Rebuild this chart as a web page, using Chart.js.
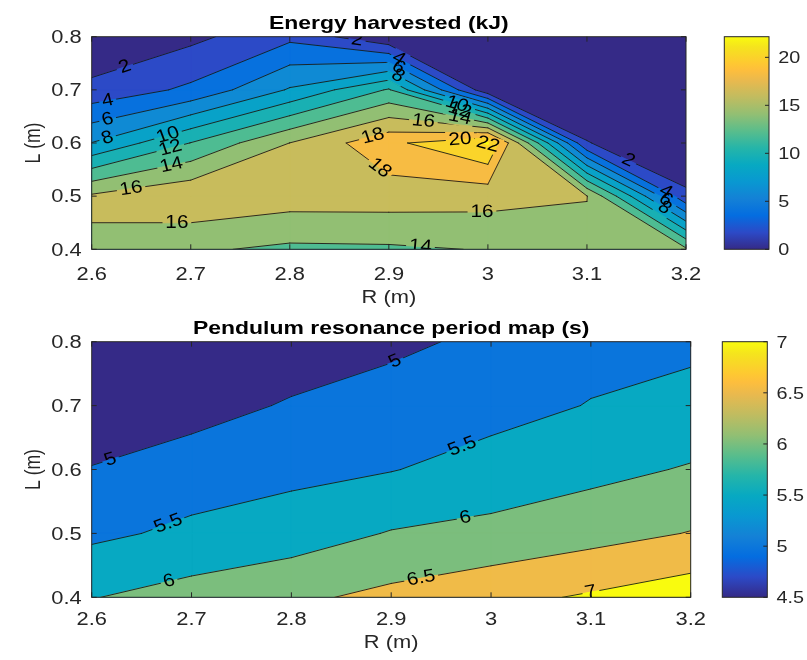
<!DOCTYPE html>
<html>
<head>
<meta charset="utf-8">
<title>Energy harvested and pendulum resonance period</title>
<script src="https://cdn.jsdelivr.net/npm/chart.js@4.4.1/dist/chart.umd.min.js"></script>
<style>
  html, body { margin: 0; padding: 0; background: #ffffff; }
  #wrap { position: relative; width: 807px; height: 660px; overflow: hidden; }
  #wrap canvas { position: absolute; left: 0; top: 0; }
</style>
</head>
<body>
<div id="wrap">
  <canvas id="energyMap" width="807" height="660"></canvas>
  <canvas id="energyBar" width="807" height="660"></canvas>
  <canvas id="periodMap" width="807" height="660"></canvas>
  <canvas id="periodBar" width="807" height="660"></canvas>
</div>
<script>
// ---- grid axes -------------------------------------------------------------
const radiusR = [2.6, 2.7, 2.8, 2.9, 3.0, 3.1, 3.2];   // R (m)
const lengthL = [0.4, 0.5, 0.6, 0.7, 0.8];             // L (m)

// ---- energy harvested (kJ), one row per length L ---------------------------
const energyL040 = [15.7, 14.3, 13.6, 13.7, 14.1, 15.55, 14.3];
const energyL050 = [16.3, 17.7, 17.0, 17.0, 16.8, 16.05, 2.4];
const energyL060 = [8.05, 12.05, 16.02, 19.5, 22.15, 2.1, 0.0];
const energyL070 = [2.6, 4.4, 8.2, 12.2, 0.5, 0.0, 0.0];
const energyL080 = [0.0, 1.5, 3.5, 0.2, 0.0, 0.0, 0.0];

// ---- pendulum resonance period (s), one row per length L -------------------
const periodL040 = [5.98, 6.2, 6.4, 6.63, 6.85, 7.06, 7.29];
const periodL050 = [5.40, 5.6, 5.755, 6.03, 6.14, 6.32, 6.52];
const periodL060 = [5.02, 5.25, 5.37, 5.48, 5.69, 5.86, 6.04];
const periodL070 = [4.7, 4.8, 5.05, 5.2, 5.33, 5.52, 5.65];
const periodL080 = [4.5, 4.6, 4.7, 4.9, 5.1, 5.34, 5.4];

// ---- contour levels and colour limits --------------------------------------
const energyLevels = [0, 2, 4, 6, 8, 10, 12, 14, 16, 18, 20, 22];
const periodLevels = [4.5, 5, 5.5, 6, 6.5, 7];
const periodColourLimits = [4.5, 7];

// ---- tick labels -----------------------------------------------------------
const rTicks = [2.6, 2.7, 2.8, 2.9, 3.0, 3.1, 3.2];
const rTickLabels = ['2.6', '2.7', '2.8', '2.9', '3', '3.1', '3.2'];
const lTicks = [0.4, 0.5, 0.6, 0.7, 0.8];
const lTickLabels = ['0.4', '0.5', '0.6', '0.7', '0.8'];
const energyBarTicks = [0, 5, 10, 15, 20];
const energyBarLabels = ['0', '5', '10', '15', '20'];
const periodBarTicks = [4.5, 5, 5.5, 6, 6.5, 7];
const periodBarLabels = ['4.5', '5', '5.5', '6', '6.5', '7'];

// ---- where inline contour labels sit: [level, R, L] ------------------------
const energyLabelSpots = [
  [2, 2.635, 0.734], [4, 2.617, 0.671], [6, 2.617, 0.637], [8, 2.617, 0.603],
  [10, 2.677, 0.615], [12, 2.679, 0.593], [14, 2.68, 0.562], [16, 2.64, 0.511],
  [16, 2.686, 0.443], [2, 2.868, 0.794], [4, 2.909, 0.756], [6, 2.909, 0.740],
  [8, 2.909, 0.726], [10, 2.969, 0.675], [12, 2.972, 0.665], [14, 2.972, 0.65],
  [16, 2.935, 0.643], [18, 2.884, 0.612], [18, 2.888, 0.546], [20, 2.972, 0.606],
  [22, 2.999, 0.585], [16, 2.994, 0.474], [14, 2.932, 0.408], [2, 3.137, 0.549],
  [4, 3.176, 0.496], [6, 3.176, 0.483], [8, 3.176, 0.471]
];
const periodLabelSpots = [
  [5, 2.62, 0.61], [5, 2.902, 0.777], [5.5, 2.678, 0.51], [5.5, 2.97, 0.641],
  [6, 2.678, 0.422], [6, 2.974, 0.526], [6.5, 2.93, 0.43], [7, 3.1, 0.409]
];

// ---- parula colour map anchors: [position, r, g, b] ------------------------
const PARULA = [
  [0 / 63, 0.2081, 0.1663, 0.5292],
  [5 / 63, 0.1707, 0.2919, 0.7792],
  [10 / 63, 0.0165, 0.4266, 0.8786],
  [15 / 63, 0.0779, 0.5040, 0.8384],
  [20 / 63, 0.0343, 0.5966, 0.8199],
  [25 / 63, 0.0267, 0.6642, 0.7607],
  [30 / 63, 0.1453, 0.7098, 0.6646],
  [35 / 63, 0.3482, 0.7424, 0.5473],
  [40 / 63, 0.5709, 0.7485, 0.4494],
  [45 / 63, 0.7525, 0.7384, 0.3768],
  [50 / 63, 0.9139, 0.7258, 0.3063],
  [53 / 63, 0.9938, 0.7455, 0.2403],
  [55 / 63, 0.9955, 0.7861, 0.1967],
  [60 / 63, 0.9589, 0.8949, 0.1132],
  [63 / 63, 0.9763, 0.9831, 0.0538]
];

const FONT = '"Liberation Sans", Arial, Helvetica, sans-serif';
const AXIS_GREY = '#262626';

function parulaAt(t) {
  t = Math.min(1, Math.max(0, t));
  let i = 0;
  while (i < PARULA.length - 2 && t > PARULA[i + 1][0]) i++;
  const a = PARULA[i], b = PARULA[i + 1];
  const f = (t - a[0]) / (b[0] - a[0]);
  const c = [1, 2, 3].map(k => Math.round(255 * (a[k] + f * (b[k] - a[k]))));
  return 'rgb(' + c.join(',') + ')';
}

// filled band colour: lower level of the band through a 64-entry colour map
function bandColour(level, cmin, cmax) {
  let idx = Math.floor((level - cmin) / (cmax - cmin) * 64 + 1e-9);
  idx = Math.min(63, Math.max(0, idx));
  return parulaAt(idx / 63);
}

function drawText(ctx, text, x, y, o) {
  ctx.save();
  ctx.font = (o.bold ? 'bold ' : '') + o.size + 'px ' + FONT;
  ctx.fillStyle = o.color || AXIS_GREY;
  ctx.textAlign = o.align || 'center';
  ctx.textBaseline = o.baseline || 'alphabetic';
  ctx.translate(x, y);
  ctx.scale(o.sx || 1, 1);
  if (o.rotate) ctx.rotate(o.rotate);
  ctx.fillText(text, 0, 0);
  ctx.restore();
}

// corners of grid cell (i, j) in anticlockwise order: [R, L, value]
function cellCorners(grid, i, j) {
  return [
    [radiusR[i], lengthL[j], grid[j][i]],
    [radiusR[i + 1], lengthL[j], grid[j][i + 1]],
    [radiusR[i + 1], lengthL[j + 1], grid[j + 1][i + 1]],
    [radiusR[i], lengthL[j + 1], grid[j + 1][i]]
  ];
}

// polygons of the region value >= level, one per cell (marching squares)
function regionPolygons(grid, level) {
  const polys = [];
  for (let j = 0; j < lengthL.length - 1; j++) {
    for (let i = 0; i < radiusR.length - 1; i++) {
      const c = cellCorners(grid, i, j);
      const pts = [];
      for (let k = 0; k < 4; k++) {
        const a = c[k], b = c[(k + 1) % 4];
        if (a[2] >= level) pts.push([a[0], a[1]]);
        if ((a[2] >= level) !== (b[2] >= level)) {
          const t = (level - a[2]) / (b[2] - a[2]);
          pts.push([a[0] + t * (b[0] - a[0]), a[1] + t * (b[1] - a[1])]);
        }
      }
      if (pts.length >= 3) polys.push(pts);
    }
  }
  return polys;
}

// iso-line segments at one level (marching squares)
function levelSegments(grid, level) {
  const segs = [];
  for (let j = 0; j < lengthL.length - 1; j++) {
    for (let i = 0; i < radiusR.length - 1; i++) {
      const c = cellCorners(grid, i, j);
      const pts = [];
      for (let k = 0; k < 4; k++) {
        const a = c[k], b = c[(k + 1) % 4];
        if ((a[2] >= level) !== (b[2] >= level)) {
          const t = (level - a[2]) / (b[2] - a[2]);
          pts.push([a[0] + t * (b[0] - a[0]), a[1] + t * (b[1] - a[1])]);
        }
      }
      if (pts.length === 2) {
        segs.push([pts[0], pts[1]]);
      } else if (pts.length === 4) {
        const centre = (c[0][2] + c[1][2] + c[2][2] + c[3][2]) / 4;
        if ((centre >= level) === (c[0][2] >= level)) {
          segs.push([pts[0], pts[1]], [pts[2], pts[3]]);
        } else {
          segs.push([pts[3], pts[0]], [pts[1], pts[2]]);
        }
      }
    }
  }
  return segs;
}

function contourPlugin(spec) {
  return {
    id: 'contourMap',
    afterDraw(chart) {
      const ctx = chart.ctx;
      const a = chart.chartArea;
      const xs = chart.scales.x, ys = chart.scales.y;
      const px = (r, l) => [xs.getPixelForValue(r), ys.getPixelForValue(l)];
      const w = a.right - a.left, h = a.bottom - a.top;

      // filled bands
      ctx.save();
      ctx.beginPath();
      ctx.rect(a.left, a.top, w, h);
      ctx.clip();
      ctx.fillStyle = bandColour(spec.levels[0], spec.cmin, spec.cmax);
      ctx.fillRect(a.left, a.top, w, h);
      for (let k = 1; k < spec.levels.length; k++) {
        const lvl = spec.levels[k];
        const polys = regionPolygons(spec.grid, lvl);
        if (!polys.length) continue;
        const col = bandColour(lvl, spec.cmin, spec.cmax);
        ctx.beginPath();
        polys.forEach(poly => {
          poly.forEach((p, n) => {
            const q = px(p[0], p[1]);
            if (n === 0) ctx.moveTo(q[0], q[1]); else ctx.lineTo(q[0], q[1]);
          });
          ctx.closePath();
        });
        ctx.fillStyle = col;
        ctx.strokeStyle = col;
        ctx.lineWidth = 1;
        ctx.lineJoin = 'round';
        ctx.fill();
        ctx.stroke();
      }

      // iso-lines in pixel space
      const segsByLevel = {};
      spec.levels.slice(1).forEach(lvl => {
        segsByLevel[lvl] = levelSegments(spec.grid, lvl).map(s => [px(s[0][0], s[0][1]), px(s[1][0], s[1][1])]);
      });

      // inline label placement, snapped to the nearest iso-line point
      const labelSize = 18, labelSx = 1.15;
      const placed = [];
      ctx.font = labelSize + 'px ' + FONT;
      spec.labelSpots.forEach(([lvl, r, l]) => {
        const segs = segsByLevel[lvl] || [];
        const hint = px(r, l);
        let best = null;
        segs.forEach(([p, q]) => {
          const dx = q[0] - p[0], dy = q[1] - p[1];
          const len2 = dx * dx + dy * dy;
          let t = len2 > 0 ? ((hint[0] - p[0]) * dx + (hint[1] - p[1]) * dy) / len2 : 0;
          t = Math.max(0, Math.min(1, t));
          const cx = p[0] + t * dx, cy = p[1] + t * dy;
          const d = (cx - hint[0]) ** 2 + (cy - hint[1]) ** 2;
          if (!best || d < best.d) best = { d, x: cx, y: cy, ang: Math.atan2(dy, dx) };
        });
        if (!best) return;
        let ang = best.ang;
        if (ang > Math.PI / 2) ang -= Math.PI;
        if (ang <= -Math.PI / 2) ang += Math.PI;
        const local = Math.atan2(labelSx * Math.sin(ang), Math.cos(ang));
        const text = String(lvl);
        placed.push({ x: best.x, y: best.y, rot: local, text, tw: ctx.measureText(text).width });
      });

      // lines on a separate layer so the label gaps can be cut out
      const layer = document.createElement('canvas');
      layer.width = chart.width;
      layer.height = chart.height;
      const lc = layer.getContext('2d');
      lc.strokeStyle = '#1a1a1a';
      lc.lineWidth = 0.9;
      lc.lineCap = 'round';
      Object.keys(segsByLevel).forEach(key => {
        lc.beginPath();
        segsByLevel[key].forEach(([p, q]) => { lc.moveTo(p[0], p[1]); lc.lineTo(q[0], q[1]); });
        lc.stroke();
      });
      lc.globalCompositeOperation = 'destination-out';
      placed.forEach(lb => {
        lc.save();
        lc.translate(lb.x, lb.y);
        lc.scale(labelSx, 1);
        lc.rotate(lb.rot);
        lc.fillRect(-lb.tw / 2 - 2.5, -labelSize * 0.47, lb.tw + 5, labelSize * 0.94);
        lc.restore();
      });
      ctx.drawImage(layer, 0, 0, chart.width, chart.height);

      placed.forEach(lb => {
        drawText(ctx, lb.text, lb.x, lb.y, { size: labelSize, sx: labelSx, rotate: lb.rot, baseline: 'middle', color: '#000' });
      });
      ctx.restore();

      // axes box with inward ticks on all four sides
      ctx.save();
      ctx.strokeStyle = AXIS_GREY;
      ctx.lineWidth = 1;
      ctx.strokeRect(a.left, a.top, w, h);
      ctx.beginPath();
      rTicks.forEach(v => {
        const x = xs.getPixelForValue(v);
        ctx.moveTo(x, a.bottom); ctx.lineTo(x, a.bottom - 5);
        ctx.moveTo(x, a.top); ctx.lineTo(x, a.top + 5);
      });
      lTicks.forEach(v => {
        const y = ys.getPixelForValue(v);
        ctx.moveTo(a.left, y); ctx.lineTo(a.left + 5, y);
        ctx.moveTo(a.right, y); ctx.lineTo(a.right - 5, y);
      });
      ctx.stroke();
      ctx.restore();

      // tick labels, axis labels, title
      const tickSize = 17.5, tickSx = 1.25;
      rTicks.forEach((v, n) => {
        drawText(ctx, rTickLabels[n], xs.getPixelForValue(v), a.bottom + spec.tickGap, { size: tickSize, sx: tickSx });
      });
      lTicks.forEach((v, n) => {
        drawText(ctx, lTickLabels[n], a.left - 10, ys.getPixelForValue(v) + tickSize * 0.358, { size: tickSize, sx: tickSx, align: 'right' });
      });
      const midX = (a.left + a.right) / 2, midY = (a.top + a.bottom) / 2;
      drawText(ctx, 'R (m)', midX, a.bottom + spec.xLabelGap, { size: tickSize, sx: tickSx });
      drawText(ctx, 'L (m)', 34, midY, { size: tickSize, sx: tickSx, rotate: -Math.PI / 2, baseline: 'middle' });
      drawText(ctx, spec.title, midX, a.top - 8.2, { size: 18.5, sx: 1.24, bold: true, color: '#000' });
    }
  };
}

function colourBarPlugin(spec) {
  return {
    id: 'colourBar',
    afterDraw(chart) {
      const ctx = chart.ctx;
      const a = chart.chartArea;
      const y = chart.scales.y;
      ctx.save();
      ctx.strokeStyle = AXIS_GREY;
      ctx.lineWidth = 1;
      ctx.strokeRect(a.left, a.top, a.right - a.left, a.bottom - a.top);
      ctx.beginPath();
      spec.ticks.forEach(v => {
        const py = y.getPixelForValue(v);
        ctx.moveTo(a.right, py); ctx.lineTo(a.right - 4, py);
      });
      ctx.stroke();
      ctx.restore();
      spec.ticks.forEach((v, n) => {
        drawText(ctx, spec.labels[n], a.right + 9.3, y.getPixelForValue(v) + 16.5 * 0.358, { size: 16.5, sx: 1.2, align: 'left' });
      });
    }
  };
}

function gridNodes(grid) {
  const pts = [];
  grid.forEach((row, j) => row.forEach((v, i) => pts.push({ x: radiusR[i], y: lengthL[j], v })));
  return pts;
}

function makeMap(id, spec) {
  return new Chart(document.getElementById(id), {
    type: 'scatter',
    data: { datasets: [{ data: gridNodes(spec.grid), pointRadius: 0, showLine: false }] },
    options: {
      responsive: false, animation: false, events: [],
      layout: { padding: spec.padding },
      scales: {
        x: { type: 'linear', min: 2.6, max: 3.2, display: false },
        y: { type: 'linear', min: 0.4, max: 0.8, display: false }
      },
      plugins: { legend: { display: false }, tooltip: { enabled: false }, title: { display: false } }
    },
    plugins: [contourPlugin(spec)]
  });
}

function makeColourBar(id, spec) {
  return new Chart(document.getElementById(id), {
    type: 'bar',
    data: {
      labels: [''],
      datasets: [{
        data: [[spec.cmin, spec.cmax]],
        borderWidth: 0,
        barPercentage: 1,
        categoryPercentage: 1,
        backgroundColor: (c) => {
          const ch = c.chart;
          if (!ch.chartArea) return 'rgba(0,0,0,0)';
          const ys = ch.scales.y;
          const g = ch.ctx.createLinearGradient(0, ys.getPixelForValue(spec.cmin), 0, ys.getPixelForValue(spec.cmax));
          PARULA.forEach(p => g.addColorStop(p[0], parulaAt(p[0])));
          return g;
        }
      }]
    },
    options: {
      responsive: false, animation: false, events: [],
      layout: { padding: spec.padding },
      scales: {
        x: { display: false },
        y: { type: 'linear', min: spec.cmin, max: spec.cmax, display: false }
      },
      plugins: { legend: { display: false }, tooltip: { enabled: false }, title: { display: false } }
    },
    plugins: [colourBarPlugin(spec)]
  });
}

const energyGrid = [energyL040, energyL050, energyL060, energyL070, energyL080];
const periodGrid = [periodL040, periodL050, periodL060, periodL070, periodL080];
const energyMin = Math.min(...energyGrid.flat());
const energyMax = Math.max(...energyGrid.flat());

makeMap('energyMap', {
  grid: energyGrid, levels: energyLevels, cmin: energyMin, cmax: energyMax,
  labelSpots: energyLabelSpots, title: 'Energy harvested (kJ)',
  padding: { left: 91.7, top: 36.7, right: 121, bottom: 410.7 },
  tickGap: 30.7, xLabelGap: 53.7
});
makeColourBar('energyBar', {
  cmin: energyMin, cmax: energyMax, ticks: energyBarTicks, labels: energyBarLabels,
  padding: { left: 724.3, top: 36.7, right: 38, bottom: 410.7 }
});
makeMap('periodMap', {
  grid: periodGrid, levels: periodLevels, cmin: periodColourLimits[0], cmax: periodColourLimits[1],
  labelSpots: periodLabelSpots, title: 'Pendulum resonance period map (s)',
  padding: { left: 91.7, top: 341.7, right: 116.3, bottom: 62.7 },
  tickGap: 27.7, xLabelGap: 50.5
});
makeColourBar('periodBar', {
  cmin: periodColourLimits[0], cmax: periodColourLimits[1], ticks: periodBarTicks, labels: periodBarLabels,
  padding: { left: 722.3, top: 341.7, right: 39.7, bottom: 62.7 }
});
</script>
</body>
</html>
